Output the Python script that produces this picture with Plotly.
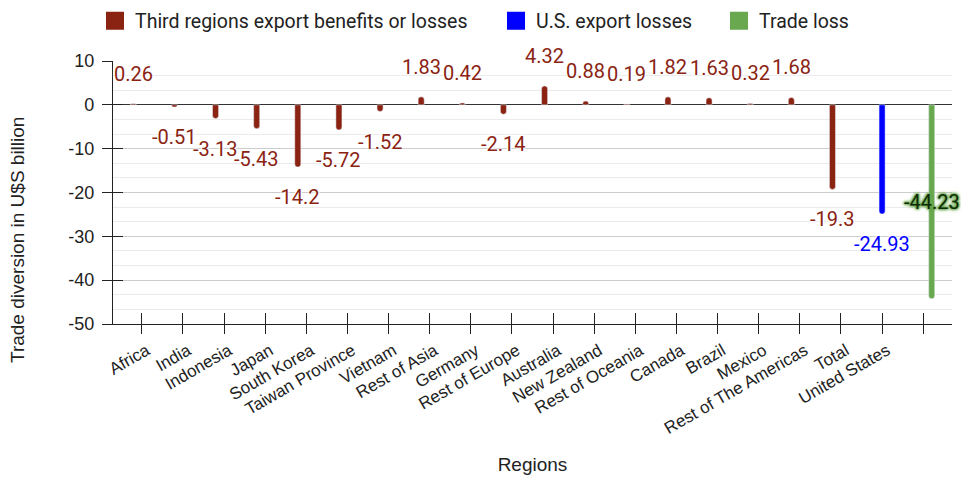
import plotly.graph_objects as go

regions = ["Africa", "India", "Indonesia", "Japan", "South Korea", "Taiwan Province",
           "Vietnam", "Rest of Asia", "Germany", "Rest of Europe", "Australia",
           "New Zealand", "Rest of Oceania", "Canada", "Brazil", "Mexico",
           "Rest of The Americas", "Total", "United States", ""]
third_regions = [0.26, -0.51, -3.13, -5.43, -14.2, -5.72, -1.52, 1.83, 0.42, -2.14,
                 4.32, 0.88, 0.19, 1.82, 1.63, 0.32, 1.68, -19.3, None, None]
us_losses = [None] * 18 + [-24.93, None]
trade_loss = [None] * 19 + [-44.23]
y_ticks = [10, 0, -10, -20, -30, -40, -50]
y_ticktext = ["10", "0", "-10", "-20", "-30", "-40", "-50"]

series = [
    ("Third regions export benefits or losses", third_regions, "#8a2312", "#8a2312"),
    ("U.S. export losses", us_losses, "#0000ff", "#0000ff"),
    ("Trade loss", trade_loss, "#6aa84f", "#0f2a06"),
]

W, H = 961, 482
L, R, T, B = 113, 9, 61, 158
BARGAP = 0.38
slot = (1 - BARGAP) / 3
xs = list(range(len(regions)))

fig = go.Figure()
halo_white = "0 0 2px #fff, 0 0 2px #fff, 0 0 3px #fff, 0 0 3px #fff"
halo_green = "0 0 2px #6aa84f, 0 0 2px #6aa84f, 0 0 3px #6aa84f, 0 0 3px #6aa84f, 0 0 4px #6aa84f"
ARIAL = "Arial"

annotations = []
for k, (name, vals, col, tcol) in enumerate(series):
    fig.add_trace(go.Bar(x=xs, y=vals, name=name, marker=dict(color=col, cornerradius=3),
                         showlegend=False, hoverinfo="skip"))
    lg = "legend" if k == 0 else f"legend{k + 1}"
    fig.add_trace(go.Scatter(x=[None], y=[None], mode="markers", name=name, legend=lg,
                             marker=dict(symbol="square", size=18, color=col,
                                         line=dict(color=col, width=2))))
    off = (k - 1) * slot
    for i, v in enumerate(vals):
        if v is None:
            continue
        if k == 2:
            annotations.append(dict(x=i + off, y=v / 2, xref="x", yref="y", text=str(v),
                                    showarrow=False,
                                    font=dict(family="Roboto", size=20, color=tcol, shadow=halo_green)))
        else:
            annotations.append(dict(x=i + off, y=v, xref="x", yref="y", text=str(v),
                                    showarrow=False, yshift=30 if v > 0 else -30,
                                    font=dict(family="Roboto", size=20, color=tcol, shadow=halo_white)))

# invisible trace to carry the overlay axes for crossing ticks
fig.add_trace(go.Scatter(x=[None], y=[None], xaxis="x2", yaxis="y2", showlegend=False,
                         hoverinfo="skip"))

annotations.append(dict(text="Trade diversion in U$S billion", xref="paper", yref="paper",
                        x=(18 - L) / (W - L - R), y=(H - B - 240) / (H - B - T),
                        xanchor="center", yanchor="middle",
                        textangle=-90, showarrow=False,
                        font=dict(family=ARIAL, size=19, color="#222")))

xrange = [-0.7, 19.7]
yrange = [-50, 10]
legend_base = dict(orientation="h", yanchor="middle", y=(H - B - 21) / (H - B - T),
                   xanchor="left", font=dict(family="Roboto", size=19.5, color="#222"),
                   bgcolor="rgba(0,0,0,0)", itemclick=False)


def lx(px):
    return (px - L) / (W - L - R)


fig.update_layout(
    width=W, height=H,
    margin=dict(l=L, r=R, t=T, b=B, autoexpand=False),
    paper_bgcolor="white", plot_bgcolor="white",
    barmode="group", bargap=BARGAP, bargroupgap=0.29,
    annotations=annotations,
    legend=dict(legend_base, x=lx(95)),
    legend2=dict(legend_base, x=lx(496)),
    legend3=dict(legend_base, x=lx(719)),
    xaxis=dict(range=xrange, tickmode="array", tickvals=xs, ticktext=regions,
               tickangle=-30, ticks="outside", ticklen=9, tickcolor="#222", tickwidth=1.3,
               showline=True, linecolor="#222", linewidth=1.3, showgrid=False, zeroline=False,
               ticklabelshift=5,
               tickfont=dict(family=ARIAL, size=17, color="#222"),
               title=dict(text="Regions", standoff=20,
                          font=dict(family=ARIAL, size=19, color="#222"))),
    yaxis=dict(range=yrange, tickmode="array", tickvals=y_ticks, ticktext=y_ticktext,
               ticks="outside", ticklen=10, tickcolor="#222", tickwidth=1.3,
               showline=True, linecolor="#222", linewidth=1.3,
               showgrid=True, gridcolor="#cccccc", gridwidth=1,
               zeroline=True, zerolinecolor="#333", zerolinewidth=1.3,
               minor=dict(dtick=10 / 3, tick0=0, showgrid=True, gridcolor="#ebebeb", gridwidth=1),
               ticklabelstandoff=4,
               tickfont=dict(family=ARIAL, size=18, color="#222")),
    xaxis2=dict(range=xrange, overlaying="x", anchor="y2", side="bottom", tickmode="array",
                tickvals=xs, ticks="inside", ticklen=11, tickcolor="#222", tickwidth=1.3,
                showticklabels=False, showgrid=False, zeroline=False, showline=False),
    yaxis2=dict(range=yrange, overlaying="y", anchor="x2", side="left", tickmode="array",
                tickvals=y_ticks, ticks="inside", ticklen=10, tickcolor="#222", tickwidth=1.3,
                showticklabels=False, showgrid=False, zeroline=False, showline=False),
)

fig.write_html("out.html")
